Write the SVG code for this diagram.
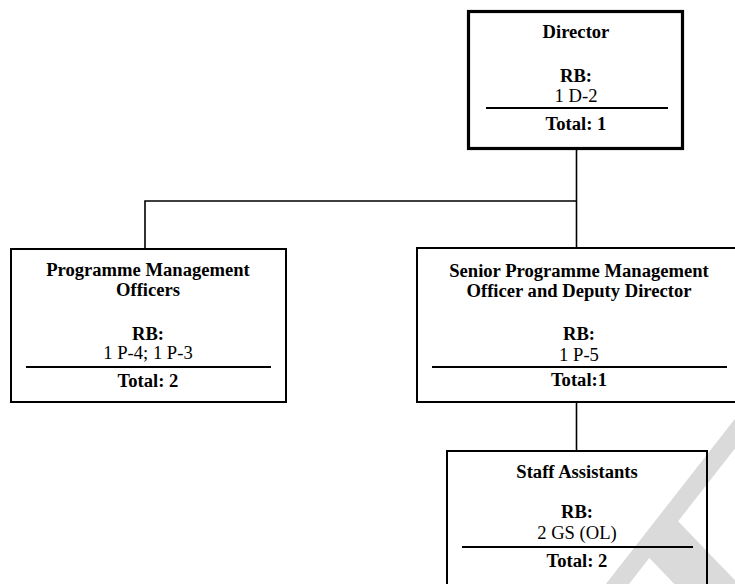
<svg xmlns="http://www.w3.org/2000/svg" width="735" height="584" viewBox="0 0 735 584">
  <style>
    .box { fill: none; stroke: #000; stroke-width: 2; }
    .box-main { fill: none; stroke: #000; stroke-width: 3.2; }
    .rule { stroke: #000; stroke-width: 2; }
    .link { fill: none; stroke: #000; stroke-width: 1.6; }
    text { font-family: "Liberation Serif", "Times New Roman", serif; font-size: 18.6px; fill: #000; text-anchor: middle; }
    .b { font-weight: bold; }
    .mark { font-family: "Liberation Sans", Arial, sans-serif; font-size: 240px; fill: #dadada; text-anchor: middle; }
  </style>
  <rect width="735" height="584" fill="#fff"/>

  <!-- faint background watermark -->
  <text class="mark" transform="translate(766.8 646.2) rotate(-52) skewX(-8) scale(2.1 1)">T</text>

  <g id="connectors">
    <path class="link" d="M576.5 150 V248"/>
    <path class="link" d="M576.5 201 H145 V248"/>
    <path class="link" d="M576.5 401 V451"/>
  </g>

  <g id="director">
    <rect class="box-main" x="468.5" y="11.5" width="214" height="137"/>
    <text class="b" x="576" y="38">Director</text>
    <text class="b" x="576" y="82">RB:</text>
    <text x="576" y="102">1 D-2</text>
    <line class="rule" x1="486" y1="108" x2="668" y2="108"/>
    <text class="b" x="576" y="130">Total: 1</text>
  </g>

  <g id="programme-officers">
    <rect class="box" x="11" y="249" width="275" height="153"/>
    <text class="b" x="148" y="276">Programme Management</text>
    <text class="b" x="148" y="296">Officers</text>
    <text class="b" x="148" y="340">RB:</text>
    <text x="148" y="359">1 P-4; 1 P-3</text>
    <line class="rule" x1="26" y1="367" x2="271" y2="367"/>
    <text class="b" x="148" y="387">Total: 2</text>
  </g>

  <g id="deputy-director">
    <rect class="box" x="417" y="248" width="324" height="154"/>
    <text class="b" x="579" y="277">Senior Programme Management</text>
    <text class="b" x="579" y="297">Officer and Deputy Director</text>
    <text class="b" x="579" y="340">RB:</text>
    <text x="579" y="361">1 P-5</text>
    <line class="rule" x1="432" y1="367" x2="727" y2="367"/>
    <text class="b" x="579" y="386">Total:1</text>
  </g>

  <g id="staff-assistants">
    <rect class="box" x="447" y="451" width="260" height="150"/>
    <text class="b" x="577" y="478">Staff Assistants</text>
    <text class="b" x="577" y="518">RB:</text>
    <text x="577" y="539">2 GS (OL)</text>
    <line class="rule" x1="462" y1="547" x2="693" y2="547"/>
    <text class="b" x="577" y="567">Total: 2</text>
  </g>
</svg>
